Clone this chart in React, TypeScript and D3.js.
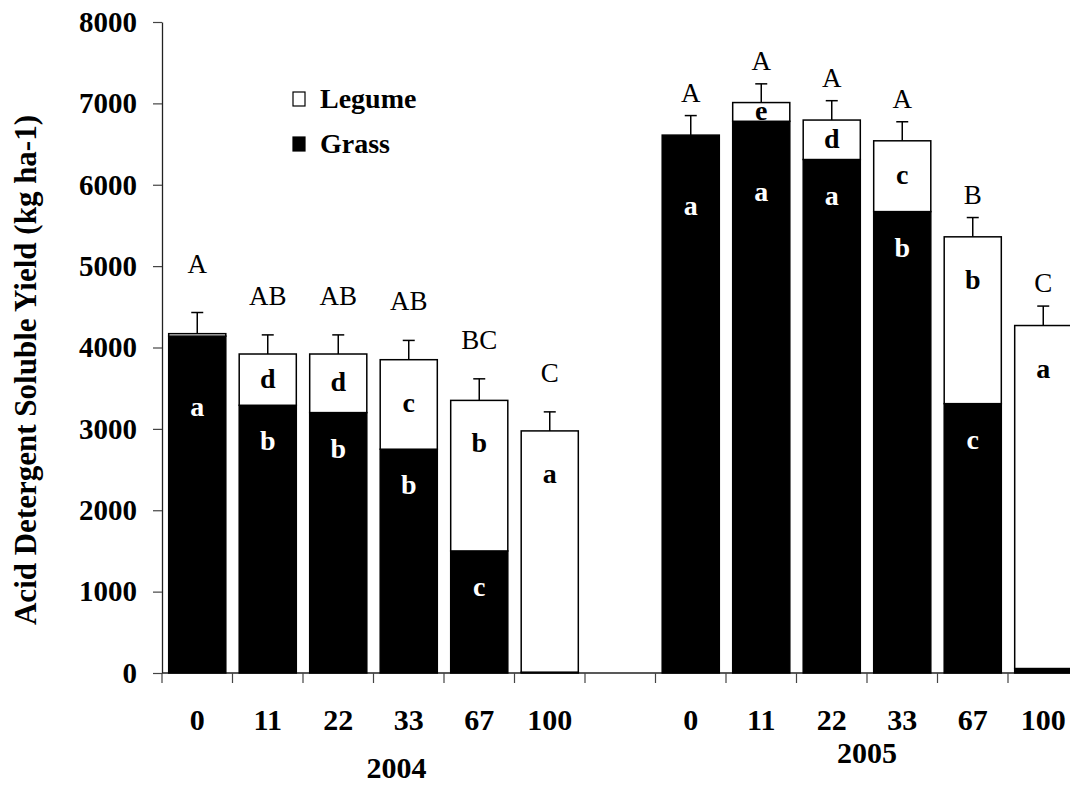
import React, { useEffect, useRef } from "react";
import * as d3 from "d3";

// values (kg ha-1)
const years = ["2004", "2005"];
const rates = ["0", "11", "22", "33", "67", "100"];

const grass2004 = [4140, 3290, 3200, 2750, 1500, 10];
const legume2004 = [30, 630, 720, 1100, 1850, 2965];
const err2004 = [260, 235, 235, 237, 265, 234];
const total2004Letters = ["A", "AB", "AB", "AB", "BC", "C"];
const grass2004Letters = ["a", "b", "b", "b", "c", ""];
const legume2004Letters = ["", "d", "d", "c", "b", "a"];

const grass2005 = [6610, 6780, 6310, 5670, 3310, 55];
const legume2005 = [0, 230, 485, 870, 2050, 4215];
const err2005 = [240, 230, 238, 234, 237, 239];
const total2005Letters = ["A", "A", "A", "A", "B", "C"];
const grass2005Letters = ["a", "a", "a", "b", "c", ""];
const legume2005Letters = ["", "e", "d", "c", "b", "a"];

const yTicks = [0, 1000, 2000, 3000, 4000, 5000, 6000, 7000, 8000];

const FONT = "'Liberation Serif', 'Times New Roman', serif";

function buildRows() {
	const rows = [];
	const src = {
		"2004": [grass2004, legume2004, err2004, total2004Letters, grass2004Letters, legume2004Letters],
		"2005": [grass2005, legume2005, err2005, total2005Letters, grass2005Letters, legume2005Letters],
	};
	years.forEach((yr) => {
		const [g, l, e, tl, gl, ll] = src[yr];
		rates.forEach((r, i) => {
			rows.push({
				key: `${yr}-${r}`,
				year: yr,
				rate: r,
				grass: g[i],
				legume: l[i],
				err: e[i],
				totalLetter: tl[i],
				grassLetter: gl[i],
				legumeLetter: ll[i],
			});
		});
	});
	return rows;
}

export default function App() {
	const ref = useRef(null);

	useEffect(() => {
		const svg = d3.select(ref.current);
		svg.selectAll("*").remove();

		const rows = buildRows();
		const slots = [...rows.filter((d) => d.year === "2004").map((d) => d.key), "gap", ...rows.filter((d) => d.year === "2005").map((d) => d.key)];

		const left = 162;
		const right = 1078.5;
		const x = d3.scaleBand().domain(slots).range([left, right]).paddingInner(0.19).paddingOuter(0.095);
		const step = x.step();
		const y = d3.scaleLinear().domain([0, 8000]).range([673, 22]);

		// y axis
		const yAxis = svg
			.append("g")
			.attr("transform", `translate(${left},0)`)
			.call(d3.axisLeft(y).tickValues(yTicks).tickSize(9).tickSizeOuter(0).tickPadding(16).tickFormat(d3.format("d")));
		yAxis.select(".domain").attr("stroke", "#222").attr("stroke-width", 1.3);
		yAxis.selectAll(".tick line").attr("stroke", "#444").attr("stroke-width", 1.2);
		yAxis
			.selectAll(".tick text")
			.attr("fill", "#000")
			.style("font-family", FONT)
			.style("font-weight", "bold")
			.style("font-size", "29px");

		// x axis line + ticks at slot boundaries
		svg.append("line")
			.attr("x1", left)
			.attr("x2", right)
			.attr("y1", y(0))
			.attr("y2", y(0))
			.attr("stroke", "#222")
			.attr("stroke-width", 1.3);
		svg.append("g")
			.selectAll("line")
			.data(d3.range(slots.length + 1))
			.join("line")
			.attr("x1", (k) => left + k * step)
			.attr("x2", (k) => left + k * step)
			.attr("y1", y(0))
			.attr("y2", y(0) + 10)
			.attr("stroke", "#444")
			.attr("stroke-width", 1.2);

		const bw = x.bandwidth();
		const bars = svg.append("g").selectAll("g").data(rows).join("g");

		// grass (black)
		bars.append("rect")
			.attr("x", (d) => x(d.key))
			.attr("width", bw)
			.attr("y", (d) => y(d.grass))
			.attr("height", (d) => y(0) - y(d.grass))
			.attr("fill", "#000")
			.attr("stroke", "#000")
			.attr("stroke-width", 1.5);

		// legume (white)
		bars.filter((d) => d.legume > 0)
			.append("rect")
			.attr("x", (d) => x(d.key))
			.attr("width", bw)
			.attr("y", (d) => y(d.grass + d.legume))
			.attr("height", (d) => y(d.grass) - y(d.grass + d.legume))
			.attr("fill", "#fff")
			.attr("stroke", "#000")
			.attr("stroke-width", 1.5);

		// error bars
		const cx = (d) => x(d.key) + bw / 2;
		bars.append("line")
			.attr("x1", cx)
			.attr("x2", cx)
			.attr("y1", (d) => y(d.grass + d.legume))
			.attr("y2", (d) => y(d.grass + d.legume + d.err))
			.attr("stroke", "#000")
			.attr("stroke-width", 1.5);
		bars.append("line")
			.attr("x1", (d) => cx(d) - 6)
			.attr("x2", (d) => cx(d) + 6)
			.attr("y1", (d) => y(d.grass + d.legume + d.err))
			.attr("y2", (d) => y(d.grass + d.legume + d.err))
			.attr("stroke", "#000")
			.attr("stroke-width", 1.5);

		// mean separation letters above bars
		bars.append("text")
			.attr("x", cx)
			.attr("y", (d) => y(d.grass + d.legume + d.err) - (d.year === "2004" ? (d.rate === "0" ? 40 : 30) : 14))
			.attr("text-anchor", "middle")
			.style("font-family", FONT)
			.style("font-size", "27px")
			.text((d) => d.totalLetter);

		// letters inside segments
		bars.append("text")
			.attr("x", cx)
			.attr("y", (d) => {
				const top = y(d.grass);
				const legH = y(d.grass) - y(d.grass + d.legume);
				return top + 45 + (legH < 30 ? 35 : 0);
			})
			.attr("text-anchor", "middle")
			.attr("fill", "#fff")
			.style("font-family", FONT)
			.style("font-weight", "bold")
			.style("font-size", "28px")
			.text((d) => d.grassLetter);

		bars.append("text")
			.attr("x", cx)
			.attr("y", (d) => {
				const top = y(d.grass + d.legume);
				const mid = (top + y(d.grass)) / 2;
				return Math.min(top + 52, mid + 8);
			})
			.attr("text-anchor", "middle")
			.attr("fill", "#000")
			.style("font-family", FONT)
			.style("font-weight", "bold")
			.style("font-size", "28px")
			.text((d) => d.legumeLetter);

		// rate labels
		svg.append("g")
			.selectAll("text")
			.data(rows)
			.join("text")
			.attr("x", cx)
			.attr("y", 730)
			.attr("text-anchor", "middle")
			.style("font-family", FONT)
			.style("font-weight", "bold")
			.style("font-size", "30px")
			.text((d) => d.rate);

		// year labels
		years.forEach((yr) => {
			const ks = rows.filter((d) => d.year === yr);
			const mid = (cx(ks[0]) + cx(ks[ks.length - 1])) / 2;
			svg.append("text")
				.attr("x", yr === "2004" ? mid + 23 : mid)
				.attr("y", yr === "2004" ? 778 : 763)
				.attr("text-anchor", "middle")
				.style("font-family", FONT)
				.style("font-weight", "bold")
				.style("font-size", "30px")
				.text(yr);
		});

		// y title
		svg.append("text")
			.attr("transform", "translate(36,370) rotate(-90)")
			.attr("text-anchor", "middle")
			.style("font-family", FONT)
			.style("font-weight", "bold")
			.style("font-size", "31px")
			.text("Acid Detergent Soluble Yield (kg ha-1)");

		// legend
		const legend = svg.append("g");
		const items = [
			{ name: "Legume", fill: "#fff", yb: 108 },
			{ name: "Grass", fill: "#000", yb: 153 },
		];
		legend
			.selectAll("rect")
			.data(items)
			.join("rect")
			.attr("x", 293)
			.attr("y", (d) => d.yb - 16)
			.attr("width", 12)
			.attr("height", 14)
			.attr("fill", (d) => d.fill)
			.attr("stroke", "#000")
			.attr("stroke-width", 1.2);
		legend
			.selectAll("text")
			.data(items)
			.join("text")
			.attr("x", 320)
			.attr("y", (d) => d.yb)
			.style("font-family", FONT)
			.style("font-weight", "bold")
			.style("font-size", "28px")
			.text((d) => d.name);
	}, []);

	return (
		<svg
			ref={ref}
			width={1070}
			height={785}
			style={{ position: "absolute", left: 0, top: 0, background: "#fff" }}
		/>
	);
}
